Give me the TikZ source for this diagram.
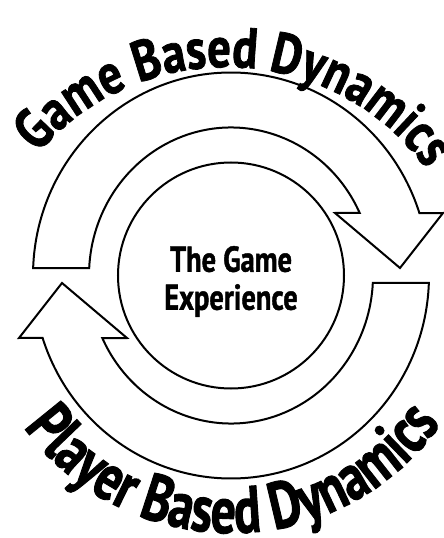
\documentclass[tikz,border=0pt]{standalone}
\usepackage{fontspec}
\usetikzlibrary{decorations.text, positioning}
\newfontfamily\gamefont[FakeStretch=0.82, BoldFeatures={FakeBold=1.4}]{PT Sans}
\newfontfamily\playerfont[FakeStretch=0.75, BoldFeatures={FakeBold=1.4}]{PT Sans}
\newfontfamily\hubfont[FakeStretch=0.79, BoldFeatures={FakeBold=1.2}]{PT Sans}
\tikzset{
    band/.style={draw, line width=2pt, fill=white, line join=miter},
    hub/.style={circle, draw, line width=2pt, minimum size=226pt, inner sep=0pt},
    hubtext/.style={align=center, font=\hubfont\bfseries\fontsize{36}{38}\selectfont}
}

\begin{document}
\begin{tikzpicture}[x=1pt, y=1pt]
    \useasboundingbox (-231,-262.5) rectangle (213,275.5);

    % two curved arrows, the lower one is the upper one turned by 180 degrees
    \foreach \turn in {0,180}{
        \draw[band, rotate=\turn] (177.9:198pt and 203pt)
            arc[start angle=177.9, end angle=17.9, x radius=198pt, y radius=203pt]
            -- (212,62.5) -- (169,7.5) -- (104,62.5)    % arrow head
            -- (25:142pt and 148pt)
            arc[start angle=25, end angle=177.1, x radius=142pt, y radius=148pt]
            -- cycle;
    }

    % circle in the middle
    \node[hub] (hub) at (0,0) {};
    \node[hubtext] (hubtext) at ([yshift=-6pt]hub.center) {The Game\\Experience};

    % titles bent along the arrows
    \path[shift={(-5,-39.5)}, decorate, decoration={text along path, text align=center,
        text={|\gamefont\bfseries\fontsize{57}{60}\selectfont|Game Based Dynamics}}]
        (147.7:248pt) arc[start angle=147.7, end angle=27.7, radius=248pt];
    \path[shift={(0,-1.5)}, decorate, decoration={text along path, text align=center,
        text={|\playerfont\bfseries\fontsize{66}{70}\selectfont|Player Based Dynamics}}]
        (210.5:256pt) arc[start angle=210.5, end angle=330.5, radius=256pt];
\end{tikzpicture}
\end{document}
